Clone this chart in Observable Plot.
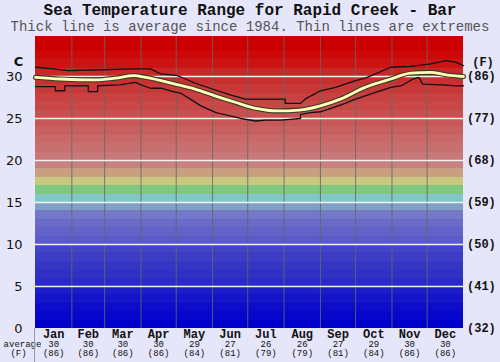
<!DOCTYPE html>
<html>
<head>
<meta charset="utf-8">
<script src="https://cdn.jsdelivr.net/npm/d3@7"></script>
<script src="https://cdn.jsdelivr.net/npm/@observablehq/plot@0.6"></script>
<style>
  html, body { margin: 0; padding: 0; background: #e6e6fa; }
  #wrap { position: relative; width: 500px; height: 362px; background: #e6e6fa; overflow: hidden; }
  #title { position: absolute; top: 4px; left: 0; width: 500px; text-align: center;
           font: bold 16px "Liberation Mono", "Courier New", monospace; color: #111; line-height: 15px; }
  #subtitle { position: absolute; top: 21px; left: 0; width: 500px; text-align: center;
           font: 14px "Liberation Mono", "Courier New", monospace; color: #555; line-height: 13px; }
  #plot { position: absolute; top: 36px; left: 0; }
  #edge { position: absolute; left: 34px; top: 328px; width: 1px; height: 34px; background: #9a9ab0; }
</style>
</head>
<body>
<div id="wrap">
  <div id="title">Sea Temperature Range for Rapid Creek - Bar</div>
  <div id="subtitle">Thick line is average since 1984. Thin lines are extremes</div>
  <div id="plot"></div>
  <div id="edge"></div>
</div>
<script>
// ---- data ----
const monthNames = ["Jan","Feb","Mar","Apr","May","Jun","Jul","Aug","Sep","Oct","Nov","Dec"];
const monthStarts = [0,31,59,90,120,151,181,212,243,273,304,334,365];
const monthAvgC = [30,30,30,30,29,27,26,26,27,29,30,30];
const monthAvgF = [86,86,86,86,84,81,79,79,81,84,86,86];
const yTicks = [0,5,10,15,20,25,30];

const avgDay  = [0,21,51,68,84,94,119,136,153,171,188,206,225,243,260,281,303,320,337,350,365];
const avgTemp = [29.9,29.7,29.6,29.8,30.1,29.9,29.1,28.5,27.7,26.9,26.2,25.9,26.0,26.5,27.3,28.7,29.7,30.4,30.5,30.2,30.0];

const maxDay  = [0,15,28,57,85,98,107,121,128,136,149,166,179,213,213,226,230,235,243,256,264,273,281,290,303,320,337,350,358,365];
const maxTemp = [31.1,30.9,30.7,30.8,30.9,30.9,30.3,30.1,29.7,29.2,28.6,27.8,27.3,27.3,26.8,26.8,27.3,27.7,28.3,28.7,29.1,29.5,29.8,30.3,31.1,31.2,31.5,31.9,31.7,31.3];

const minDay  = [0,17,17,25,25,45,45,53,53,72,85,90,98,107,115,124,132,141,154,175,188,196,209,226,226,235,243,252,264,273,290,303,312,322,327,330,346,358,365];
const minTemp = [28.8,28.8,28.3,28.3,28.9,28.9,28.2,28.2,28.9,29.0,29.3,29.0,28.6,28.6,28.3,28.0,27.3,26.5,25.7,25.0,24.7,24.8,24.8,25.0,25.5,25.7,25.8,26.2,26.8,27.3,28.1,28.7,28.9,29.7,29.9,29.1,29.0,28.9,28.9];

// background colour bands, one per degree C (0..34)
const bandColors = ["#0000cc","#0606cc","#0c0cca","#1414c8","#1c1cc8","#2a2ac4","#3030c4","#3636c4","#3c3cc4","#4444c6",
  "#5a5ac8","#6262c8","#6a6ac8","#7478c8","#80a0c4","#80c8c8","#80c880","#c8c880","#c8a080","#c88080",
  "#c87878","#c87070","#c86868","#c86060","#c85858","#c85050","#c84848","#c84040","#c83838","#c83030",
  "#c82828","#cc1414","#cc0808","#cc0000","#cc0000"];

const yMax = 34.76;
const bands = bandColors.map((c, i) => ({t: i, top: Math.min(i + 1, yMax), color: c}));
const avg = avgDay.map((d, i) => ({d, v: avgTemp[i]}));
const mx = maxDay.map((d, i) => ({d, v: maxTemp[i]}));
const mn = minDay.map((d, i) => ({d, v: minTemp[i]}));
const months = monthNames.map((m, i) => ({name: m, mid: (monthStarts[i] + monthStarts[i+1]) / 2, c: monthAvgC[i], f: monthAvgF[i]}));

const mono = "Liberation Mono, Courier New, monospace";
const sans = "DejaVu Sans, Verdana, sans-serif";

const chart = Plot.plot({
  width: 500,
  height: 326,
  marginTop: 0,
  marginLeft: 35,
  marginRight: 37,
  marginBottom: 34,
  style: {background: "transparent", overflow: "visible"},
  x: {domain: [0, 365], axis: null},
  y: {domain: [0, yMax], axis: null},
  color: {type: "identity"},
  marks: [
    Plot.rect(bands, {x1: () => 0, x2: () => 365, y1: "t", y2: "top", fill: "color", shapeRendering: "crispEdges"}),
    Plot.ruleX(monthStarts.slice(1, 12), {stroke: "#666", strokeOpacity: 0.85, strokeWidth: 1}),
    Plot.ruleY(yTicks.slice(1), {stroke: "#f4f0f0", strokeWidth: 1.6}),
    Plot.line(mx, {x: "d", y: "v", stroke: "#111", strokeWidth: 1.3}),
    Plot.line(mn, {x: "d", y: "v", stroke: "#111", strokeWidth: 1.3}),
    Plot.line(avg, {x: "d", y: "v", stroke: "#3a3a2a", strokeWidth: 5, curve: "monotone-x"}),
    Plot.line(avg, {x: "d", y: "v", stroke: "#ffffb8", strokeWidth: 2.8, curve: "monotone-x"}),
    // left axis (C)
    Plot.text(yTicks, {frameAnchor: "left", y: d => d, text: d => String(d), textAnchor: "end", dx: -13,
      fontSize: 13, fontFamily: sans, fill: "#111"}),
    Plot.text(["C"], {frameAnchor: "left", y: () => 31.7, text: d => d, textAnchor: "middle", dx: -17,
      fontSize: 13, fontFamily: sans, fontWeight: "bold", fill: "#111"}),
    // right axis (F)
    Plot.text(yTicks, {frameAnchor: "right", y: d => d, text: d => `(${Math.round(d * 9 / 5 + 32)})`, textAnchor: "start", dx: 3.5,
      fontSize: 12, fontFamily: mono, fontWeight: "bold", fill: "#111"}),
    Plot.text(["(F)"], {frameAnchor: "right", y: () => 31.7, text: d => d, textAnchor: "middle", dx: 19.5,
      fontSize: 12, fontFamily: mono, fontWeight: "bold", fill: "#111"}),
    // month labels and averages
    Plot.text(months, {x: "mid", frameAnchor: "bottom", dy: 5.5, lineAnchor: "middle", text: "name",
      fontSize: 12, fontFamily: mono, fontWeight: "bold", fill: "#111"}),
    Plot.text(months, {x: "mid", frameAnchor: "bottom", dy: 16, lineAnchor: "middle", text: d => String(d.c),
      fontSize: 9, fontFamily: mono, fill: "#111"}),
    Plot.text(months, {x: "mid", frameAnchor: "bottom", dy: 25, lineAnchor: "middle", text: d => `(${d.f})`,
      fontSize: 9, fontFamily: mono, fill: "#111"}),
    Plot.text(["average"], {frameAnchor: "bottom-left", dx: -13, dy: 15.5, lineAnchor: "middle", textAnchor: "middle", text: d => d,
      fontSize: 9, fontFamily: mono, fill: "#111"}),
    Plot.text(["(F)"], {frameAnchor: "bottom-left", dx: -17, dy: 25, lineAnchor: "middle", textAnchor: "middle", text: d => d,
      fontSize: 9, fontFamily: mono, fill: "#111"})
  ]
});
document.getElementById("plot").appendChild(chart);
</script>
</body>
</html>
